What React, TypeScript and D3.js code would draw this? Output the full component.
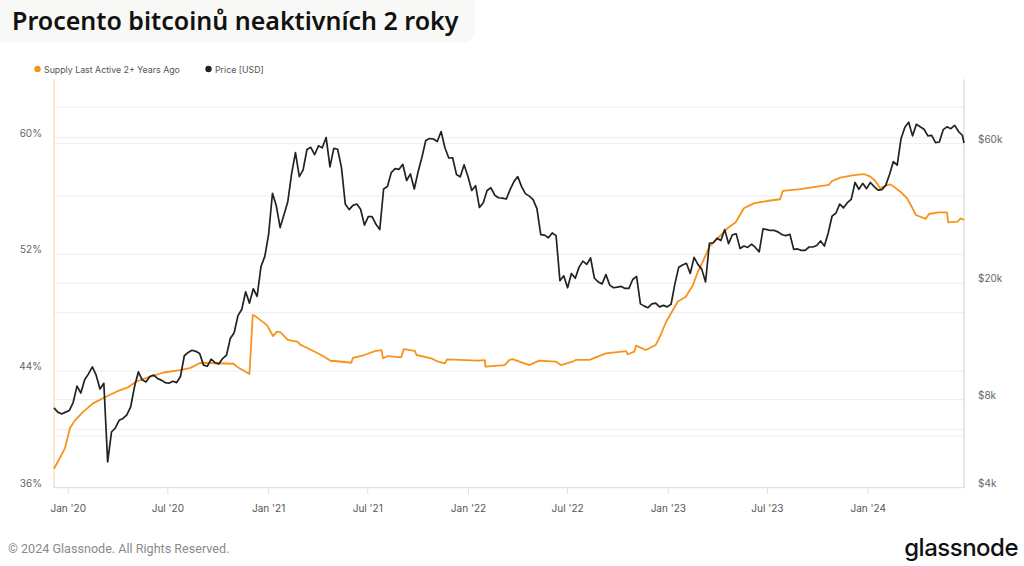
import React from "react";
import * as d3 from "d3";

const W = 1024;
const H = 566;

const titleText = "Procento bitcoinů neaktivních 2 roky";
const legendLabels = ["Supply Last Active 2+ Years Ago", "Price [USD]"];
const footerText = "© 2024 Glassnode. All Rights Reserved.";
const logoText = "glassnode";

const xTickDates = ["2020-01-01", "2020-07-01", "2021-01-01", "2021-07-01", "2022-01-01", "2022-07-01", "2023-01-01", "2023-07-01", "2024-01-01"];
const xTickLabels = ["Jan '20", "Jul '20", "Jan '21", "Jul '21", "Jan '22", "Jul '22", "Jan '23", "Jul '23", "Jan '24"];
const xDomain = ["2019-12-06", "2024-06-24"];

const leftDomain = [36, 64];
const leftTicks = [36, 44, 52, 60];
const leftGrid = [40, 44, 48, 52, 56, 60];
const rightDomain = [4000, 99500];
const rightTicks = [4000, 8000, 20000, 60000];
const rightTickLabels = ["$4k", "$8k", "$20k", "$60k"];
const rightGrid = [6000, 8000, 20000, 60000, 80000];

// Supply Last Active 2+ Years Ago (%)
const supplyDates = [
  "2019-12-06", "2019-12-26", "2020-01-04", "2020-01-13", "2020-01-28", "2020-02-16", "2020-03-08", "2020-03-30",
  "2020-04-20", "2020-05-05", "2020-05-29", "2020-06-23", "2020-07-23", "2020-08-10", "2020-08-29", "2020-09-10",
  "2020-10-29", "2020-11-04", "2020-11-27", "2020-12-03", "2020-12-10", "2020-12-29", "2021-01-09", "2021-01-16",
  "2021-01-23", "2021-02-05", "2021-02-24", "2021-02-27", "2021-03-20", "2021-04-07", "2021-04-25", "2021-05-02",
  "2021-06-01", "2021-06-04", "2021-06-25", "2021-07-14", "2021-07-26", "2021-07-29", "2021-08-07", "2021-08-31",
  "2021-09-05", "2021-09-25", "2021-09-28", "2021-10-25", "2021-11-07", "2021-11-19", "2021-11-23", "2022-01-18",
  "2022-01-31", "2022-02-01", "2022-03-08", "2022-03-17", "2022-03-23", "2022-04-04", "2022-04-22", "2022-05-10",
  "2022-06-10", "2022-06-19", "2022-07-10", "2022-07-16", "2022-08-10", "2022-09-09", "2022-10-16", "2022-10-19",
  "2022-10-31", "2022-11-03", "2022-11-21", "2022-12-09", "2022-12-18", "2022-12-28", "2023-01-06", "2023-01-18",
  "2023-02-02", "2023-02-15", "2023-02-24", "2023-03-05", "2023-03-17", "2023-04-04", "2023-04-19", "2023-05-04",
  "2023-05-19", "2023-06-06", "2023-06-30", "2023-07-24", "2023-07-29", "2023-08-30", "2023-10-12", "2023-10-21",
  "2023-10-27", "2023-11-11", "2023-12-06", "2023-12-24", "2024-01-05", "2024-01-14", "2024-01-23", "2024-02-01",
  "2024-02-11", "2024-02-29", "2024-03-12", "2024-03-22", "2024-03-28", "2024-04-15", "2024-04-21", "2024-05-09",
  "2024-05-24", "2024-05-26", "2024-06-12", "2024-06-18", "2024-06-24",
];
const supplyValues = [
  37.3, 38.7, 40.07, 40.6, 41.2, 41.8, 42.2, 42.6,
  42.9, 43.3, 43.6, 43.9, 44.07, 44.2, 44.55, 44.55,
  44.5, 44.3, 43.8, 47.85, 47.7, 47.15, 46.4, 46.7,
  46.65, 46.13, 46.0, 45.83, 45.44, 45.1, 44.69, 44.69,
  44.57, 44.91, 45.1, 45.37, 45.44, 44.87, 45.03, 44.94,
  45.51, 45.39, 45.1, 44.87, 44.64, 44.53, 44.8, 44.71,
  44.75, 44.3, 44.41, 44.76, 44.82, 44.64, 44.41, 44.71,
  44.64, 44.41, 44.64, 44.76, 44.76, 45.21, 45.37, 45.15,
  45.33, 45.74, 45.44, 45.79, 46.47, 47.38, 47.96, 48.75,
  49.1, 49.9, 50.81, 51.5, 52.53, 53.21, 53.79, 54.2,
  55.16, 55.5, 55.66, 55.78, 56.35, 56.48, 56.71, 56.76,
  57.03, 57.26, 57.44, 57.51, 57.33, 57.03, 56.53, 56.71,
  56.8, 56.3, 55.84, 55.16, 54.7, 54.43, 54.77, 54.88,
  54.88, 54.2, 54.24, 54.47, 54.36,
];

// BTC price, weekly from priceStart
const priceStart = "2019-12-06";
const priceWeekly = [
  7500, 7250, 7150, 7250, 7350, 7820, 8900, 8430, 9350, 9800, 10350, 9700, 8700, 9100, 4900, 6200,
  6400, 6800, 6900, 7100, 7550, 8850, 9950, 9350, 9200, 9600, 9700, 9450, 9330, 9150, 9100, 9250,
  9150, 9600, 11300, 11600, 11800, 11700, 11500, 10500, 10400, 11000, 10700, 10600, 11050, 11350, 12950, 13550,
  15500, 16300, 18700, 17100, 19150, 18050, 22800, 24700, 29400, 40600, 36800, 31000, 34300, 38000, 47400, 55900,
  46300, 48800, 57300, 58300, 55000, 59000, 58100, 63000, 50000, 57800, 57400, 49800, 37300, 35700, 36900, 37300,
  35800, 31600, 33800, 33800, 31800, 30500, 42000, 42800, 47800, 49300, 49000, 51000, 44900, 47300, 42000, 48100,
  53900, 61500, 62500, 62200, 61000, 66000, 58100, 53600, 53700, 47100, 46200, 50800, 46300, 41500, 43100, 36300,
  37700, 41500, 42400, 40000, 39200, 39100, 38800, 41800, 44500, 46300, 42800, 40500, 39700, 38600, 36000, 29300,
  29200, 28600, 29700, 29100, 20400, 21200, 19300, 21600, 20800, 22700, 23800, 23200, 24400, 20800, 20200, 19900,
  21400, 19700, 19300, 19400, 19500, 19200, 19200, 20600, 21100, 17000, 16700, 16500, 17000, 17100, 16600, 16800,
  16600, 16950, 19900, 22700, 23100, 23400, 21600, 24500, 23200, 22350, 20200, 27400, 27500, 28500, 28000, 30500,
  27300, 29300, 29500, 26300, 26800, 26500, 27200, 26500, 25600, 30700, 30500, 30300, 30300, 29900, 29300, 29100,
  29400, 26100, 26200, 25900, 25900, 26600, 26600, 26900, 27900, 26800, 29700, 33900, 34700, 37300, 36200, 37700,
  38700, 44200, 41900, 43900, 42100, 44200, 42800, 41600, 41800, 43200, 47100, 52100, 50700, 62400, 68300, 71000,
  63800, 69900, 68500, 67200, 63800, 64000, 60500, 60800, 67000, 68500, 67500, 69300, 66000, 64100,
];
const priceLastDate = "2024-06-24";
const priceLastValue = 60300;

const ORANGE = "#F7931A";
const DARK = "#222222";

const M = { left: 54, right: 964, top: 79.4, bottom: 487.7 };

export default function App() {
  const parse = d3.utcParse("%Y-%m-%d");
  const x = d3
    .scaleUtc()
    .domain(xDomain.map((d) => parse(d) as Date))
    .range([M.left, M.right]);
  const yL = d3.scaleLinear().domain(leftDomain).range([M.bottom, M.top]);
  const yR = d3.scaleLog().domain(rightDomain).range([M.bottom, M.top]);

  const supply = supplyDates.map((d, i) => ({ date: parse(d) as Date, v: supplyValues[i] }));
  const start = parse(priceStart) as Date;
  const price = priceWeekly.map((v, i) => ({ date: d3.utcDay.offset(start, i * 7), v }));
  price.push({ date: parse(priceLastDate) as Date, v: priceLastValue });

  const supplyLine = d3
    .line<{ date: Date; v: number }>()
    .x((d) => x(d.date))
    .y((d) => yL(d.v));
  const priceLine = d3
    .line<{ date: Date; v: number }>()
    .x((d) => x(d.date))
    .y((d) => yR(d.v));

  const font = "Inter, 'Noto Sans', sans-serif";

  return (
    <svg
      width={W}
      height={H}
      viewBox={`0 0 ${W} ${H}`}
      style={{ position: "fixed", left: 0, top: 0, background: "#fff" }}
    >
      <rect x={0} y={0} width={W} height={H} fill="#ffffff" />
      {/* title */}
      <rect x={-12} y={-12} width={487} height={54} rx={12} fill="#f8f8f6" />
      <text x={12} y={30} fontFamily="'Noto Sans', sans-serif" fontWeight={600} fontSize={25} fill="#111">
        {titleText}
      </text>

      {/* legend */}
      <circle cx={37.5} cy={69} r={3.2} fill={ORANGE} />
      <text x={44} y={69} dominantBaseline="central" fontFamily={font} fontSize={8.8} fill="#555">
        {legendLabels[0]}
      </text>
      <circle cx={208.5} cy={69} r={3.2} fill={DARK} />
      <text x={215} y={69} dominantBaseline="central" fontFamily={font} fontSize={8.8} fill="#555">
        {legendLabels[1]}
      </text>

      {/* grid */}
      {leftGrid.map((v) => (
        <line key={"gl" + v} x1={M.left} x2={M.right} y1={yL(v)} y2={yL(v)} stroke="#ededed" strokeWidth={1} />
      ))}
      {rightGrid.map((v) => (
        <line key={"gr" + v} x1={M.left} x2={M.right} y1={yR(v)} y2={yR(v)} stroke="#ededed" strokeWidth={1} />
      ))}

      {/* axes */}
      <line x1={M.left} x2={M.right} y1={M.bottom} y2={M.bottom} stroke="#d9d9d9" strokeWidth={1} />
      <line x1={M.left} x2={M.left} y1={M.top} y2={M.bottom} stroke="#fbcf9c" strokeWidth={1} />
      <line x1={M.right} x2={M.right} y1={M.top} y2={M.bottom} stroke="#cfcfcf" strokeWidth={1} />

      {xTickDates.map((d, i) => {
        const xx = x(parse(d) as Date);
        return (
          <g key={d}>
            <line x1={xx} x2={xx} y1={M.bottom} y2={M.bottom + 6} stroke="#e0e0e0" strokeWidth={1} />
            <text x={xx} y={508} textAnchor="middle" dominantBaseline="central" fontFamily={font} fontSize={10} fill="#555">
              {xTickLabels[i]}
            </text>
          </g>
        );
      })}

      {leftTicks.map((v) => (
        <text key={"lt" + v} x={42} y={yL(v) - 5} textAnchor="end" dominantBaseline="central" fontFamily={font} fontSize={10} fill="#666">
          {v + "%"}
        </text>
      ))}
      {rightTicks.map((v, i) => (
        <text key={"rt" + v} x={978} y={yR(v) - 5} textAnchor="start" dominantBaseline="central" fontFamily={font} fontSize={10} fill="#666">
          {rightTickLabels[i]}
        </text>
      ))}

      {/* series */}
      <path d={supplyLine(supply) || ""} fill="none" stroke={ORANGE} strokeWidth={1.8} strokeLinejoin="round" />
      <path d={priceLine(price) || ""} fill="none" stroke={DARK} strokeWidth={1.7} strokeLinejoin="round" />

      {/* footer */}
      <text x={8} y={553} fontFamily="Roboto, sans-serif" fontSize={12.6} fill="#8a8a8a">
        {footerText}
      </text>
      <text x={1018} y={556} textAnchor="end" fontFamily={font} fontWeight={500} fontSize={24} fill="#111" letterSpacing={-0.5}>
        {logoText}
      </text>
    </svg>
  );
}
